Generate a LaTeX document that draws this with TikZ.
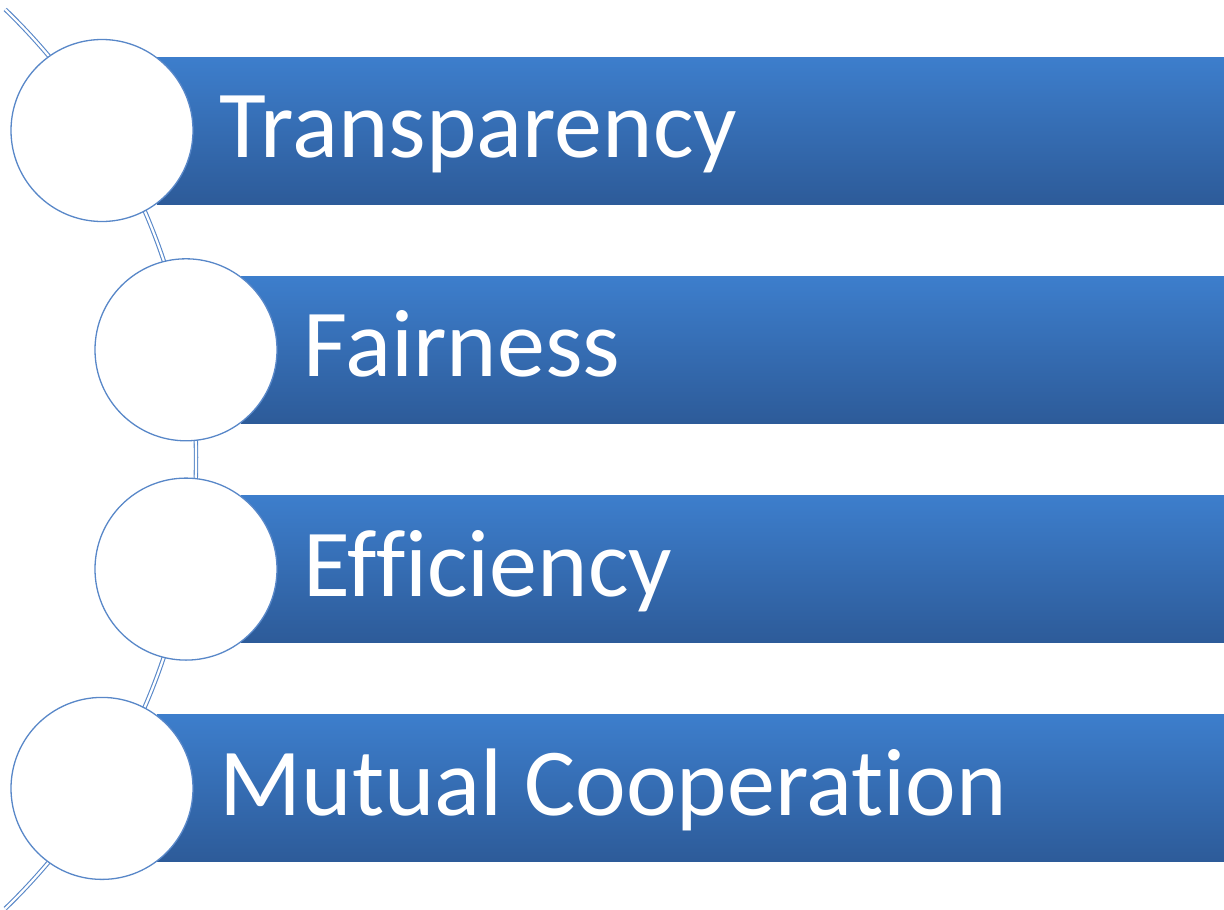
\documentclass[tikz,border=0pt]{standalone}
\usepackage{fontspec}
\setmainfont[Ligatures={NoCommon,NoRare}]{Carlito}
\usetikzlibrary{positioning}
\definecolor{bartop}{RGB}{61,126,204}
\definecolor{barbot}{RGB}{45,91,153}
\definecolor{ringblue}{RGB}{88,135,200}
\begin{document}
\begin{tikzpicture}[x=1pt,y=1pt,
  bar/.style={top color=bartop,bottom color=barbot,draw=none},
  ring/.style={circle,minimum size=182pt,inner sep=0pt,draw=ringblue,line width=1.3pt,fill=white},
  link/.style={draw=ringblue,double=white,double distance=2.2pt,line width=1.1pt},
  word/.style={font=\fontsize{96}{100}\selectfont,text=white,inner sep=0pt,anchor=base west}]
 \useasboundingbox (0,0) rectangle (1224,-910);
 % the arc behind the circles
 \coordinate (arcstart) at (5.2,-9.4);
 \draw[link] (arcstart) arc[start angle=46,end angle=-46,radius=625];
 % bars
 \shade[bar] (157,-57) rectangle (1224,-204);
 \shade[bar] (241,-276.3) rectangle (1224,-423.3);
 \shade[bar] (241,-495.6) rectangle (1224,-642.6);
 \shade[bar] (157,-714.9) rectangle (1224,-861.9);
 % circles
 \node[ring] (c1) at (102,-130.5) {};
 \node[ring] (c2) at (186,-349.8) {};
 \node[ring] (c3) at (186,-569.1) {};
 \node[ring] (c4) at (102,-788.4) {};
 % labels
 \node[word,xshift=26pt,yshift=-27pt] (t1) at (c1.east) {Transparency};
 \node[word,xshift=26pt,yshift=-27pt] (t2) at (c2.east) {Fairness};
 \node[word,xshift=26pt,yshift=-27pt] (t3) at (c3.east) {Efficiency};
 \node[word,xshift=26pt,yshift=-27pt] (t4) at (c4.east) {Mutual Cooperation};
\end{tikzpicture}
\end{document}
